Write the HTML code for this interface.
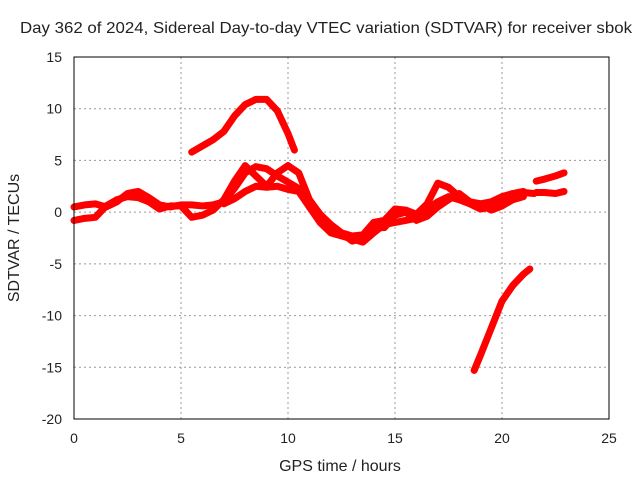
<!DOCTYPE html>
<html><head><meta charset="utf-8"><style>
body{margin:0;background:#fff}
text{font-family:"Liberation Sans",sans-serif;font-size:14px;fill:#222}
.big{font-size:16px}
</style></head><body>
<svg id="c" width="640" height="480" xmlns="http://www.w3.org/2000/svg">
<rect width="640" height="480" fill="#fff"/>
<text class="big" x="326" y="33" text-anchor="middle" textLength="612" lengthAdjust="spacingAndGlyphs">Day 362 of 2024, Sidereal Day-to-day VTEC variation (SDTVAR) for receiver sbok</text>
<text class="big" x="340" y="471" text-anchor="middle">GPS time / hours</text>
<text class="big" transform="translate(19,238) rotate(-90)" text-anchor="middle">SDTVAR / TECUs</text>
<g id="grid"></g><g id="ticks"></g><g id="series"></g>
<rect x="74" y="57" width="535" height="362" fill="none" stroke="#000" stroke-width="1"/>
</svg>
<script>
const xTicks=[0,5,10,15,20,25];
const yTicks=[15,10,5,0,-5,-10,-15,-20];
const trackA=[[0,0.5],[0.5,0.7],[1,0.8],[1.5,0.5],[2,1],[2.5,1.8],[3,2],[3.5,1.4],[4,0.7],[4.5,0.5],[5,0.7],[5.5,0.7],[6,0.6],[6.5,0.7],[7,1],[7.5,2.3],[8,3.8],[8.5,4.4],[9,4.2],[9.5,3.5],[10,2.9],[10.5,2.3],[11,0.5],[11.5,-1],[12,-2],[12.5,-2.3],[13,-2.6],[13.5,-2.9],[14,-2],[14.5,-1.2],[15,-1],[15.5,-0.8],[16,-0.6],[16.5,0.3],[17,1],[17.5,1.5],[18,1.2],[18.5,0.8],[19,0.3],[19.5,0.5],[20,1],[20.5,1.5],[21,1.9],[21.5,1.8]];
const trackB=[[0,-0.8],[0.5,-0.6],[1,-0.5],[1.5,0.6],[2,1.2],[2.5,1.5],[3,1.4],[3.5,1],[4,0.3],[4.5,0.6],[5,0.6],[5.5,-0.5],[6,-0.3],[6.5,0.2],[7,1.2],[7.5,3],[8,4.5],[8.5,3.5],[9,2.5],[9.5,3.8],[10,4.5],[10.5,3.8],[11,1.2],[11.5,-0.2],[12,-1.2],[12.5,-2],[13,-2.8],[13.5,-2.5],[14,-1.5],[14.5,-1.5],[15,-0.3],[15.5,0],[16,-0.8],[16.5,-0.4],[17,0.5],[17.5,1.2],[18,1.8],[18.5,1],[19,0.7],[19.5,0.2],[20,0.6],[20.5,1.2],[21,1.5]];
const trackC=[[7,0.8],[7.5,1.3],[8,2],[8.5,2.5],[9,2.4],[9.5,2.5],[10,2.2],[10.5,2],[11,0.5],[11.5,-0.8],[12,-1.6],[12.5,-2],[13,-2.3],[13.5,-2.2],[14,-1],[14.5,-0.8],[15,0.3],[15.5,0.2],[16,-0.2],[16.5,0.8],[17,2.8],[17.5,2.4],[18,1.5],[18.5,1],[19,0.8],[19.5,1],[20,1.5],[20.5,1.8],[21,2]];
const trackUp=[[5.5,5.8],[6,6.4],[6.5,7],[7,7.8],[7.5,9.3],[8,10.4],[8.5,10.9],[9,10.9],[9.5,9.8],[10,7.6],[10.3,6]];
const trackDown=[[18.7,-15.3],[19,-13.8],[19.5,-11.2],[20,-8.6],[20.5,-7.1],[21,-6],[21.3,-5.5]];
const trackR1=[[21.6,3],[22,3.2],[22.5,3.5],[22.9,3.8]];
const trackR2=[[21.6,1.9],[22,1.9],[22.5,1.8],[22.9,2]];
const series=[trackA,trackB,trackC,trackUp,trackDown,trackR1,trackR2];
const X=v=>74+v*535/25, Y=v=>57+(15-v)*362/35;
const NS='http://www.w3.org/2000/svg';
const g=document.getElementById('grid'),t=document.getElementById('ticks'),s=document.getElementById('series');
function mk(tag,at,p){const e=document.createElementNS(NS,tag);for(const k in at)e.setAttribute(k,at[k]);p.appendChild(e);return e;}
xTicks.forEach(v=>{
 if(v>0&&v<25){const l=mk('line',{x1:X(v),x2:X(v),y1:57,y2:419,stroke:'#999','stroke-dasharray':'2,3'},g);
 
 }
 const tx=mk('text',{x:X(v),y:443,'text-anchor':'middle'},t);tx.textContent=v;
 
 
});
yTicks.forEach(v=>{
 if(v<15&&v>-20){const l=mk('line',{x1:74,x2:609,y1:Y(v),y2:Y(v),stroke:'#999','stroke-dasharray':'2,3'},g);
 
 }
 const tx=mk('text',{x:62,y:Y(v)+5,'text-anchor':'end'},t);tx.textContent=v;
 
 
});
series.forEach((d,i)=>{
 const p=mk('polyline',{points:d.map(q=>X(q[0])+','+Y(q[1])).join(' '),fill:'none',stroke:'#f00','stroke-width':7,'stroke-linejoin':'round','stroke-linecap':'round'},s);
 
 
});
</script>
</body></html>
